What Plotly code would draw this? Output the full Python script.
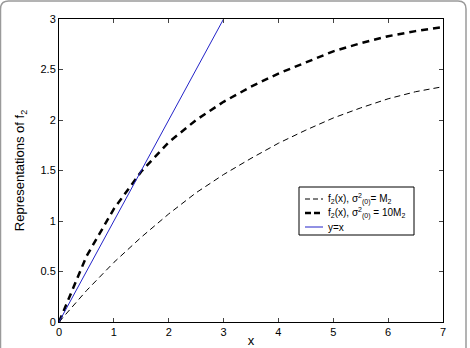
import plotly.graph_objects as go

x_vals = [0, 0.5, 1, 1.5, 2, 2.5, 3, 3.5, 4, 4.5, 5, 5.5, 6, 6.5, 7]
f2_M2 = [0, 0.31, 0.59, 0.84, 1.07, 1.28, 1.46, 1.62, 1.77, 1.90, 2.02, 2.12, 2.21, 2.28, 2.33]
f2_10M2 = [0, 0.65, 1.12, 1.49, 1.78, 2.00, 2.18, 2.33, 2.46, 2.57, 2.68, 2.76, 2.83, 2.88, 2.92]
line_x = [0, 3]
line_y = [0, 3]

x_ticks = [0, 1, 2, 3, 4, 5, 6, 7]
y_ticks = [0, 0.5, 1, 1.5, 2, 2.5, 3]
y_ticklabels = ["0", "0.5", "1", "1.5", "2", "2.5", "3"]

names = ["f<sub>2</sub>(x), σ<sup>2</sup><sub>(0)</sub>= M<sub>2</sub>",
         "f<sub>2</sub>(x), σ<sup>2</sup><sub>(0)</sub> = 10M<sub>2</sub>",
         "y=x"]
styles = [dict(color="black", width=1, dash="6px,4px"),
          dict(color="black", width=2.5, dash="7px,5px"),
          dict(color="#2323c8", width=1)]

FONT = "Liberation Sans, Arial, Helvetica, sans-serif"

fig = go.Figure()
for xs, ys, nm, st in [(x_vals, f2_M2, names[0], styles[0]),
                       (x_vals, f2_10M2, names[1], styles[1]),
                       (line_x, line_y, names[2], styles[2])]:
    fig.add_trace(go.Scatter(x=xs, y=ys, mode="lines", line=st, name=nm,
                             showlegend=False))

L, R, T, B = 59, 27, 19, 26
pw = 470 - L - R
ph = 348 - T - B

def px2paper(px, py):
    return (px - L) / pw, (348 - B - py) / ph

# outer rounded frame
x0, yb = px2paper(0.5, 360)
x1, yt = px2paper(466, 1)
rx = 8 / pw
ry = 8 / ph
path = (f"M {x0},{yb} L {x0},{yt-ry} Q {x0},{yt} {x0+rx},{yt} "
        f"L {x1-rx},{yt} Q {x1},{yt} {x1},{yt-ry} L {x1},{yb}")
fig.add_shape(type="path", xref="paper", yref="paper", path=path,
              line=dict(color="#9a9a9a", width=1.5), layer="above")

# custom legend
bx0, by0 = px2paper(299, 187)
bx1, by1 = px2paper(414, 235)
fig.add_shape(type="rect", xref="paper", yref="paper", x0=bx0, y0=by1, x1=bx1, y1=by0,
              line=dict(color="black", width=1), fillcolor="white", layer="above")
for i, (nm, st) in enumerate(zip(names, styles)):
    yy = 199 + 14 * i
    sx0, sy = px2paper(305, yy)
    sx1, _ = px2paper(323, yy)
    dash = {0: "5px,3px", 1: "6px,3px"}.get(i, "solid")
    fig.add_shape(type="line", xref="paper", yref="paper", x0=sx0, x1=sx1, y0=sy, y1=sy,
                  line=dict(color=st["color"], width=st["width"], dash=dash), layer="above")
    tx, _ = px2paper(327, yy)
    fig.add_annotation(xref="paper", yref="paper", x=tx, y=sy, text=nm, showarrow=False,
                       xanchor="left", yanchor="middle", font=dict(size=10, family=FONT),
                       borderpad=0)

fig.update_layout(
    width=470, height=348,
    margin=dict(l=L, r=R, t=T, b=B, autoexpand=False),
    paper_bgcolor="white", plot_bgcolor="white",
    font=dict(family=FONT, size=11, color="black"),
    showlegend=False,
    xaxis=dict(range=[0, 7], tickvals=x_ticks, ticks="inside", ticklen=4,
               showline=True, linecolor="black", linewidth=1, mirror="ticks",
               showgrid=False, zeroline=False, automargin=False,
               tickfont=dict(size=11),
               title=dict(text="x", font=dict(size=13), standoff=0)),
    yaxis=dict(range=[0, 3], tickvals=y_ticks, ticktext=y_ticklabels,
               ticks="inside", ticklen=4,
               showline=True, linecolor="black", linewidth=1, mirror="ticks",
               showgrid=False, zeroline=False, automargin=False,
               tickfont=dict(size=11),
               title=dict(text="Representations of f<sub>2</sub>",
                          font=dict(size=13), standoff=12)),
)

fig.write_html("out.html")
